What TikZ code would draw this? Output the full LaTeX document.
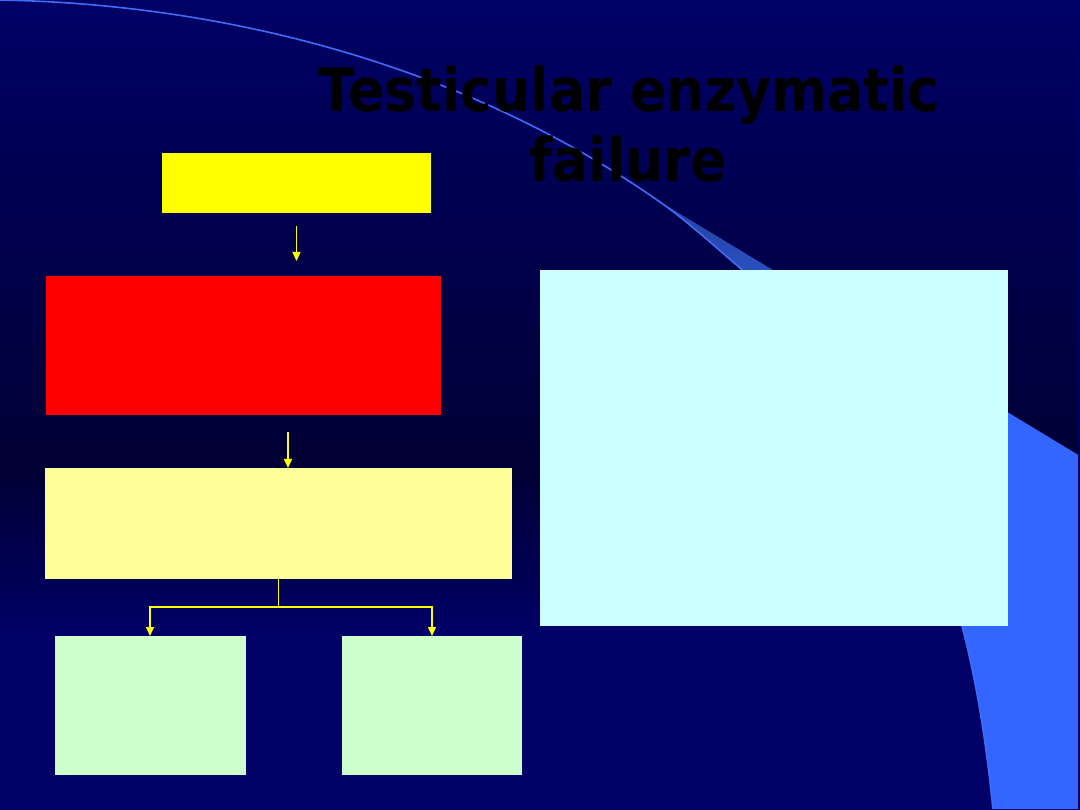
\documentclass[tikz,border=0pt]{standalone}
\usepackage{fontspec}
\newfontfamily\titlefont{DejaVu Sans}[FakeStretch=0.895]
\usetikzlibrary{arrows.meta}
\definecolor{bgtop}{HTML}{000066}
\definecolor{bgmid}{HTML}{000034}
\definecolor{swoosh}{HTML}{3366FF}
\definecolor{wedgetop}{HTML}{223F9C}
\definecolor{wedgebot}{HTML}{2C50C2}
\definecolor{arcline}{HTML}{3F6CF5}
\definecolor{boxyellow}{HTML}{FFFF00}
\definecolor{boxred}{HTML}{FF0000}
\definecolor{boxpale}{HTML}{FFFF99}
\definecolor{boxgreen}{HTML}{CCFFCC}
\definecolor{boxcyan}{HTML}{CCFFFF}
\tikzset{
  box/.style={draw=none, inner sep=0pt, outer sep=0pt, rectangle},
  arr/.style={draw=boxyellow, line width=1.5pt, -{Triangle[width=8pt,length=9pt]}},
  conn/.style={draw=boxyellow, line width=1.5pt},
  titletext/.style={text=black, inner sep=0pt, font=\titlefont\bfseries\fontsize{60}{70}\selectfont}
}
\begin{document}
\begin{tikzpicture}[x=1pt,y=-1pt]
\useasboundingbox (0,0) rectangle (1080,810);
% background
\shade[top color=bgtop, bottom color=bgmid] (0,0) rectangle (1080,470);
\shade[top color=bgmid, bottom color=bgtop] (0,470) rectangle (1080,630);
\fill[bgtop] (0,630) rectangle (1080,810);
% swoosh shape
\begin{scope}
\clip (660,202) .. controls (687,221) and (713,245) .. (740,268)
  .. controls (906,434) and (968,560) .. (993,810) -- (1080,810) -- (1080,456) -- cycle;
\fill[swoosh] (600,0) rectangle (1080,810);
\shade[top color=wedgetop, bottom color=wedgebot] (600,195) rectangle (1080,275);
\end{scope}
\draw[arcline, line width=1.6pt] (0,0) .. controls (220,4) and (460,62) .. (660,202)
  .. controls (687,221) and (713,245) .. (740,268)
  .. controls (906,434) and (968,560) .. (993,810);
% slide edge
\draw[bgtop, line width=2pt] (1079,0) -- (1079,810);
\draw[bgtop, line width=1.5pt] (0,809.25) -- (1080,809.25);
% title
\node[titletext, anchor=base] (t1) at (629,112) {Testicular enzymatic};
\node[titletext, anchor=base] (t2) at (628,182) {failure};
% boxes
\node[box, fill=boxyellow, minimum width=269pt, minimum height=60pt] (yb) at (296.5,183) {};
\node[box, fill=boxred, minimum width=395pt, minimum height=139pt] (rb) at (243.5,345.5) {};
\node[box, fill=boxpale, minimum width=467pt, minimum height=111pt] (pb) at (278.5,523.5) {};
\node[box, fill=boxgreen, minimum width=191pt, minimum height=139pt] (g1) at (150,705.5) {};
\node[box, fill=boxgreen, minimum width=180pt, minimum height=139pt] (g2) at (432,705.5) {};
\node[box, fill=boxcyan, minimum width=468pt, minimum height=356pt] (cb) at (774,448) {};
% connectors
\coordinate (a1s) at (296.5,226);
\coordinate (a1e) at (296.5,261);
\draw[arr] (a1s) -- (a1e);
\coordinate (a2s) at (288,432);
\draw[arr] (a2s) -- (a2s |- pb.north);
\coordinate (split) at (278.5,607);
\draw[conn] (pb.south) -- (split);
\draw[arr] (split) -| (g1.north);
\draw[arr] (split) -| (g2.north);
\end{tikzpicture}
\end{document}
